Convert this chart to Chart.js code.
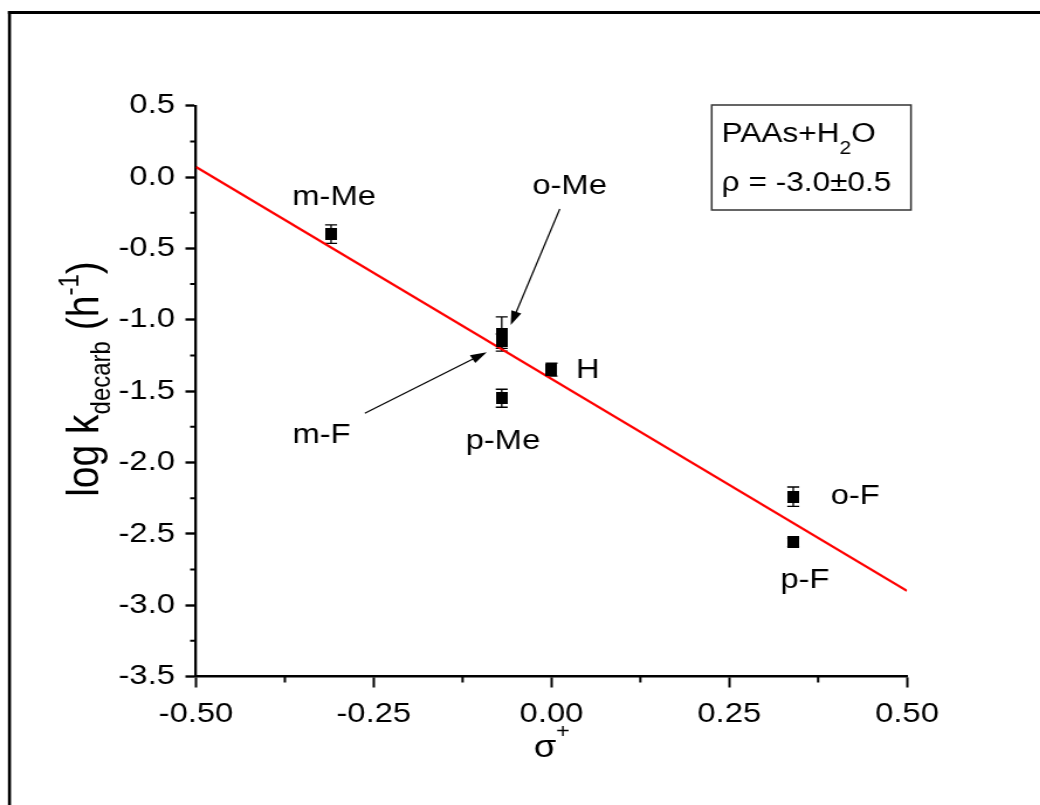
<!DOCTYPE html>
<html>
<head>
<meta charset="utf-8">
<script src="https://cdn.jsdelivr.net/npm/chart.js@4/dist/chart.umd.min.js"></script>
<style>
  html, body { margin: 0; padding: 0; background: #fff; overflow: hidden; }
  /* the figure is laid out on a narrower canvas and widened horizontally */
  #wrap { position: absolute; left: 0; top: 0; width: 889px; height: 805px;
          transform: scaleX(1.17); transform-origin: 0 0; }
</style>
</head>
<body>
<div id="wrap"><canvas id="c" width="889" height="805"></canvas></div>
<script>
// Hammett plot: decarboxylation rate of substituted phenylacetic acids in water
const substituents = ['m-Me', 'o-Me', 'm-F', 'H', 'p-Me', 'o-F', 'p-F'];
const sigmaPlus    = [-0.31, -0.07, -0.07, 0.00, -0.07, 0.34, 0.34];
const logK         = [-0.40, -1.10, -1.15, -1.35, -1.55, -2.24, -2.56];
const logKErr      = [0.065, 0.12, 0.05, 0.045, 0.063, 0.068, 0.03];

// linear fit, slope rho = -3.0
const fitX = [-0.50, 0.50];
const fitY = [0.07, -2.90];

const xTicks = [-0.50, -0.25, 0.00, 0.25, 0.50];
const yTicks = [0.5, 0.0, -0.5, -1.0, -1.5, -2.0, -2.5, -3.0, -3.5];

const FONT = "'Liberation Sans', Arial, sans-serif";

// label placement (pixel offsets from the point) and leader arrows
const labelOffsets = {
  'm-Me': [2.6, -37], 'o-Me': [58, -148], 'm-F': [-154, 94], 'H': [31, 1],
  'p-Me': [1, 43], 'o-F': [53, 0], 'p-F': [10, 38]
};
const arrows = {
  'o-Me': { from: [49.6, -125], to: [7.7, -9] },
  'm-F':  { from: [-117, 72], to: [-12.8, 11] }
};

// filled square marker
const marker = document.createElement('canvas');
marker.width = 10; marker.height = 12;
{ const m = marker.getContext('2d'); m.fillStyle = '#000'; m.fillRect(0, 0, 10, 12); }

const points = sigmaPlus.map((x, i) => ({ x, y: logK[i] }));
const fitLine = fitX.map((x, i) => ({ x, y: fitY[i] }));

function midpoints(arr) {
  const out = [];
  for (let i = 0; i < arr.length - 1; i++) out.push((arr[i] + arr[i + 1]) / 2);
  return out;
}

function arrow(ctx, x1, y1, x2, y2) {
  const a = Math.atan2(y2 - y1, x2 - x1);
  const len = 14, half = 4.5;
  ctx.beginPath();
  ctx.moveTo(x1, y1);
  ctx.lineTo(x2 - Math.cos(a) * len * 0.8, y2 - Math.sin(a) * len * 0.8);
  ctx.stroke();
  ctx.beginPath();
  ctx.moveTo(x2, y2);
  ctx.lineTo(x2 - Math.cos(a) * len - Math.sin(a) * half, y2 - Math.sin(a) * len + Math.cos(a) * half);
  ctx.lineTo(x2 - Math.cos(a) * len + Math.sin(a) * half, y2 - Math.sin(a) * len - Math.cos(a) * half);
  ctx.closePath();
  ctx.fill();
}

const decorations = {
  id: 'decorations',
  beforeDraw(chart) {
    const ctx = chart.ctx;
    ctx.save();
    ctx.fillStyle = '#fff';
    ctx.fillRect(0, 0, chart.width, chart.height);
    // outer frame
    ctx.fillStyle = '#000';
    ctx.fillRect(6.8, 11, 2.6, chart.height);
    ctx.fillRect(6.8, 11, chart.width, 3);
    ctx.restore();
  },
  beforeDatasetsDraw(chart) {
    const ctx = chart.ctx, xs = chart.scales.x, ys = chart.scales.y;
    ctx.save();
    ctx.strokeStyle = '#000';
    ctx.lineWidth = 1.3;
    points.forEach((p, i) => {
      const px = xs.getPixelForValue(p.x);
      const top = ys.getPixelForValue(p.y + logKErr[i]);
      const bot = ys.getPixelForValue(p.y - logKErr[i]);
      ctx.beginPath();
      ctx.moveTo(px, top); ctx.lineTo(px, bot);
      ctx.moveTo(px - 5.1, top); ctx.lineTo(px + 5.1, top);
      ctx.moveTo(px - 5.1, bot); ctx.lineTo(px + 5.1, bot);
      ctx.stroke();
    });
    ctx.restore();
  },
  afterDraw(chart) {
    const ctx = chart.ctx, xs = chart.scales.x, ys = chart.scales.y;
    const area = chart.chartArea;
    ctx.save();
    ctx.strokeStyle = '#000';
    ctx.fillStyle = '#000';

    // minor ticks
    ctx.lineWidth = 2;
    ctx.beginPath();
    midpoints(xTicks).forEach(v => {
      const px = xs.getPixelForValue(v);
      ctx.moveTo(px, area.bottom); ctx.lineTo(px, area.bottom + 6);
    });
    midpoints(yTicks).forEach(v => {
      const py = ys.getPixelForValue(v);
      ctx.moveTo(area.left, py); ctx.lineTo(area.left - 5, py);
    });
    ctx.stroke();

    // point labels and leader arrows
    ctx.font = `28px ${FONT}`;
    ctx.textAlign = 'center';
    ctx.textBaseline = 'middle';
    substituents.forEach((name, i) => {
      const px = xs.getPixelForValue(sigmaPlus[i]);
      const py = ys.getPixelForValue(logK[i]);
      const [dx, dy] = labelOffsets[name];
      ctx.fillText(name, px + dx, py + dy);
      const ar = arrows[name];
      if (ar) {
        ctx.lineWidth = 1.2;
        arrow(ctx, px + ar.from[0], py + ar.from[1], px + ar.to[0], py + ar.to[1]);
      }
    });

    // annotation box
    ctx.lineWidth = 1.5;
    ctx.strokeStyle = '#333';
    ctx.strokeRect(608.3, 105, 170.3, 105);
    ctx.textAlign = 'left';
    ctx.textBaseline = 'alphabetic';
    ctx.font = `27px ${FONT}`;
    let x = 616.8;
    ctx.fillText('PAAs+H', x, 142);
    x += ctx.measureText('PAAs+H').width;
    ctx.font = `18px ${FONT}`;
    ctx.fillText('2', x, 154);
    x += ctx.measureText('2').width;
    ctx.font = `27px ${FONT}`;
    ctx.fillText('O', x, 142);
    ctx.fillText('\u03C1 = -3.0\u00B10.5', 616.8, 191);

    // x axis title: sigma+
    ctx.font = `31px ${FONT}`;
    const sw = ctx.measureText('\u03C3').width;
    ctx.fillText('\u03C3', 465.8 - sw / 2, 757);
    ctx.font = `20px ${FONT}`;
    ctx.fillText('+', 465.8 + sw / 2, 738);

    // y axis title: log k_decarb (h^-1)
    ctx.translate(84, 0);
    ctx.rotate(-Math.PI / 2);
    const parts = [
      { t: 'log k', size: 39, dy: 0 },
      { t: 'decarb', size: 24, dy: 10 },
      { t: ' (h', size: 39, dy: 0 },
      { t: '-1', size: 24, dy: -17 },
      { t: ')', size: 39, dy: 0 }
    ];
    let total = 0;
    parts.forEach(p => { ctx.font = `${p.size}px ${FONT}`; p.w = ctx.measureText(p.t).width; total += p.w; });
    let tx = -379 - total / 2;
    parts.forEach(p => {
      ctx.font = `${p.size}px ${FONT}`;
      ctx.fillText(p.t, tx, p.dy);
      tx += p.w;
    });
    ctx.restore();
  }
};

new Chart(document.getElementById('c'), {
  type: 'scatter',
  data: {
    datasets: [
      {
        type: 'scatter',
        data: points,
        pointStyle: marker,
        pointRadius: 6,
        order: 0
      },
      {
        type: 'line',
        data: fitLine,
        borderColor: '#ff0000',
        borderWidth: 2.3,
        pointRadius: 0,
        fill: false,
        order: 1
      }
    ]
  },
  options: {
    responsive: false,
    animation: false,
    events: [],
    layout: { padding: { left: 0, right: 113.8, top: 105.7, bottom: 0 } },
    plugins: { legend: { display: false }, tooltip: { enabled: false } },
    scales: {
      x: {
        type: 'linear',
        min: -0.5, max: 0.5,
        afterBuildTicks: s => { s.ticks = xTicks.map(v => ({ value: v })); },
        afterFit: s => { s.height = 128.5; },
        ticks: {
          color: '#000', padding: 10,
          font: { family: FONT, size: 28 },
          callback: v => v.toFixed(2)
        },
        grid: { drawOnChartArea: false, drawTicks: true, tickLength: 11, tickWidth: 2, tickColor: '#000' },
        border: { display: true, color: '#000', width: 2.4 }
      },
      y: {
        type: 'linear',
        min: -3.5, max: 0.5,
        afterBuildTicks: s => { s.ticks = yTicks.map(v => ({ value: v })); },
        afterFit: s => { s.width = 167.5; },
        ticks: {
          color: '#000', padding: 9,
          font: { family: FONT, size: 28 },
          callback: v => v.toFixed(1)
        },
        grid: { drawOnChartArea: false, drawTicks: true, tickLength: 9, tickWidth: 2.4, tickColor: '#000' },
        border: { display: true, color: '#000', width: 2.3 }
      }
    }
  },
  plugins: [decorations]
});
</script>
</body>
</html>
